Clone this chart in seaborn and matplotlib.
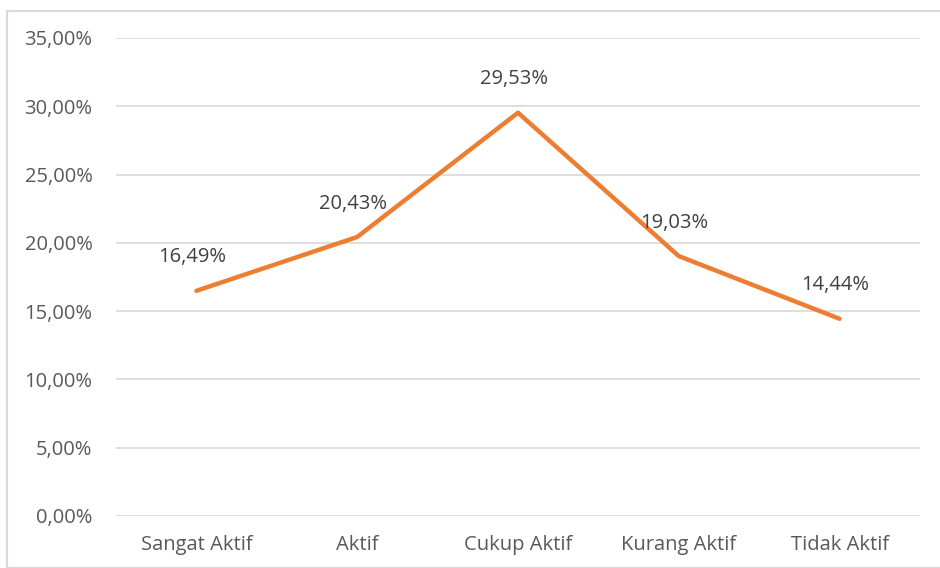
import matplotlib
matplotlib.use('Agg')
import pandas as pd
import seaborn as sns
import matplotlib.pyplot as plt
from matplotlib.patches import Rectangle
from matplotlib.ticker import FuncFormatter

categories = ['Sangat Aktif', 'Aktif', 'Cukup Aktif', 'Kurang Aktif', 'Tidak Aktif']
values = [0.1649, 0.2043, 0.2953, 0.1903, 0.1444]
label_texts = ['16,49%', '20,43%', '29,53%', '19,03%', '14,44%']

df = pd.DataFrame({'kategori': categories, 'persen': values})

sns.set_theme(style='white')
plt.rcParams['font.family'] = ['Open Sans', 'DejaVu Sans']

TEXT = '#595959'
fig = plt.figure(figsize=(9.4, 5.68), dpi=100)
ax = fig.add_axes([116 / 940, 1 - 516 / 568, 804 / 940, 478 / 568])

sns.lineplot(data=df, x='kategori', y='persen', ax=ax, color='#ED7D31',
             linewidth=3.2, sort=False)

ax.set_xlim(-0.5, 4.5)
ax.set_ylim(0, 0.35)
ax.set_yticks([i * 0.05 for i in range(8)])
ax.yaxis.set_major_formatter(FuncFormatter(lambda v, p: f'{v * 100:.2f}%'.replace('.', ',')))
ax.grid(axis='y', color='#D9D9D9', linewidth=1.2)
ax.set_axisbelow(True)
for s in ax.spines.values():
    s.set_visible(False)
ax.set_xlabel('')
ax.set_ylabel('')
ax.tick_params(axis='y', colors=TEXT, labelsize=14.5, length=0, pad=17)
ax.tick_params(axis='x', colors=TEXT, labelsize=14.5, length=0, pad=14)

for i, (v, t) in enumerate(zip(values, label_texts)):
    ax.annotate(t, (i, v), xytext=(-3, 24), textcoords='offset points',
                ha='center', va='center', fontsize=14.5, color='#404040')

fig.patches.append(Rectangle((7 / 940, 0), 1, 1 - 11 / 568, transform=fig.transFigure,
                             fill=False, edgecolor='#D9D9D9', linewidth=1.5))

fig.savefig('out.png', dpi=100)
